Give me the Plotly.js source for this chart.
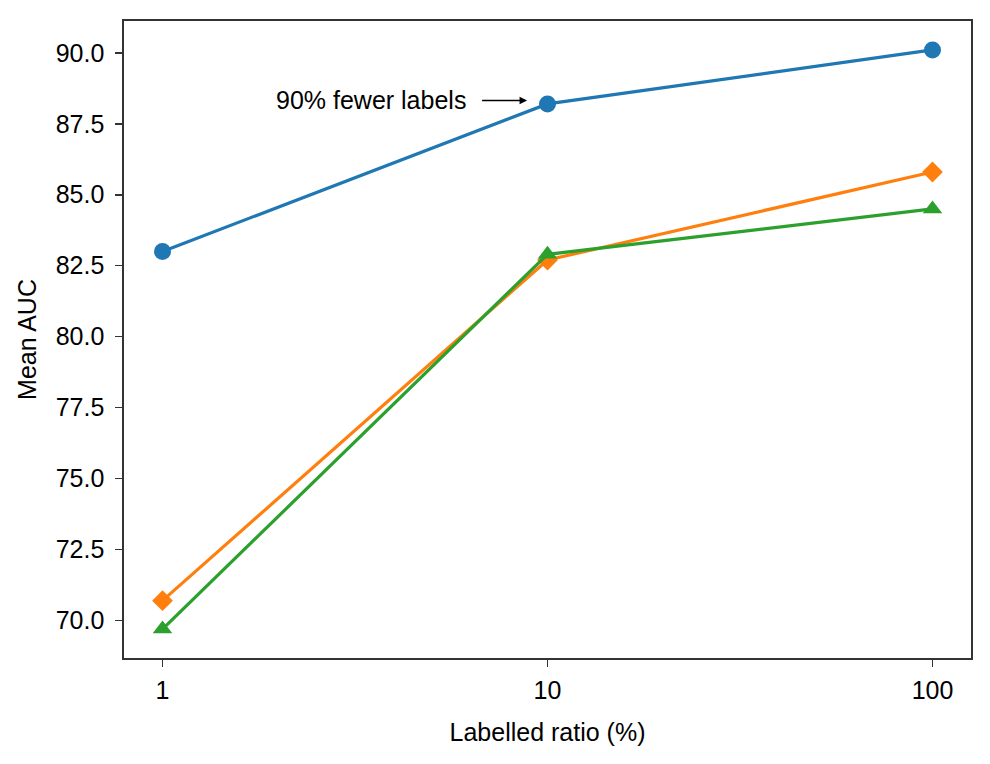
<!DOCTYPE html>
<html>
<head>
<meta charset="utf-8">
<script src="https://cdn.plot.ly/plotly-3.0.1.min.js"></script>
<style>html,body{margin:0;padding:0;background:#fff;}#chart{width:990px;height:764px;}</style>
</head>
<body>
<div id="chart"></div>
<script>
// Data
var labelledRatio = [1, 10, 100];
var blueAUC = [83.0, 88.2, 90.1];
var orangeAUC = [70.7, 82.7, 85.8];
var greenAUC = [69.7, 82.9, 84.5];
var xTickLabels = ['1', '10', '100'];
var annotationText = '90% fewer labels';

var FONT = 'Liberation Sans, Arial, Helvetica, sans-serif';
var FS = 25;

var traces = [
  {x: labelledRatio, y: blueAUC, mode: 'lines+markers', name: 'blue',
   line: {color: '#1f77b4', width: 3.2},
   marker: {symbol: 'circle', size: 17, color: '#1f77b4'}},
  {x: labelledRatio, y: orangeAUC, mode: 'lines+markers', name: 'orange',
   line: {color: '#ff7f0e', width: 3.2},
   marker: {symbol: 'diamond', size: 16, color: '#ff7f0e'}},
  {x: labelledRatio, y: greenAUC, mode: 'lines+markers', name: 'green',
   line: {color: '#2ca02c', width: 3.2},
   marker: {symbol: 'triangle-up', size: 17, color: '#2ca02c'}}
];

var layout = {
  width: 990, height: 764,
  margin: {l: 124, r: 19, t: 21, b: 106},
  paper_bgcolor: '#fff', plot_bgcolor: '#fff',
  showlegend: false,
  font: {family: FONT, size: FS, color: '#000'},
  xaxis: {
    type: 'log', range: [-0.1, 2.1],
    tickvals: labelledRatio, ticktext: xTickLabels,
    ticks: 'outside', ticklen: 7, tickwidth: 1.6, tickcolor: '#333',
    showline: true, mirror: true, linecolor: '#333', linewidth: 1.6,
    showgrid: false, zeroline: false,
    tickfont: {family: FONT, size: FS, color: '#000'},
    ticklabelstandoff: 2,
    title: {text: 'Labelled ratio (%)', font: {family: FONT, size: FS, color: '#000'}, standoff: 21}
  },
  yaxis: {
    range: [68.68, 91.12],
    tick0: 70, dtick: 2.5, tickformat: '.1f',
    ticks: 'outside', ticklen: 7, tickwidth: 1.6, tickcolor: '#333',
    showline: true, mirror: true, linecolor: '#333', linewidth: 1.6,
    showgrid: false, zeroline: false,
    tickfont: {family: FONT, size: FS, color: '#000'},
    ticklabelstandoff: 6,
    title: {text: 'Mean AUC', font: {family: FONT, size: FS, color: '#000'}, standoff: 12}
  },
  annotations: [{
    xref: 'x', yref: 'y',
    x: Math.log10(labelledRatio[1]) - 0.053, y: 88.32,
    axref: 'pixel', ayref: 'pixel', ax: -59, ay: 0,
    text: annotationText, showarrow: true,
    xanchor: 'right', yanchor: 'middle',
    arrowhead: 2, arrowsize: 1, arrowwidth: 1.5, arrowcolor: '#000',
    startstandoff: 14,
    font: {family: FONT, size: FS, color: '#000'}
  }]
};

Plotly.newPlot('chart', traces, layout, {displayModeBar: false, staticPlot: true});
</script>
</body>
</html>
